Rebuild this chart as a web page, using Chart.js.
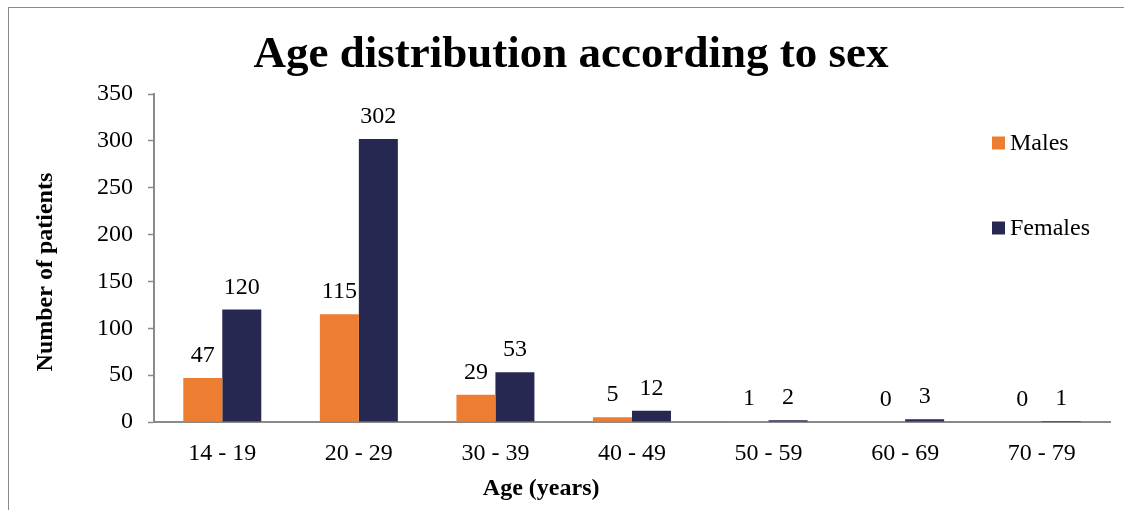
<!DOCTYPE html>
<html>
<head>
<meta charset="utf-8">
<script src="https://cdn.jsdelivr.net/npm/chart.js@4.4.1/dist/chart.umd.min.js"></script>
<style>
  html, body { margin: 0; padding: 0; background: #fff; overflow: hidden; }
  #wrap { position: relative; width: 1124px; height: 510px; }
  #frame { position: absolute; left: 8px; top: 7px; width: 1200px; height: 600px;
           border: 1.5px solid #8a8a8a; box-sizing: border-box; }
  #chart { position: absolute; left: 0; top: 0; }
</style>
</head>
<body>
<div id="wrap">
  <div id="frame"></div>
  <canvas id="chart" width="1124" height="510"></canvas>
</div>
<script>
// Altersverteilung nach Geschlecht
const ageGroups = ["14 - 19", "20 - 29", "30 - 39", "40 - 49", "50 - 59", "60 - 69", "70 - 79"];
const males = [47, 115, 29, 5, 1, 0, 0];
const females = [120, 302, 53, 12, 2, 3, 1];
const yTicks = { min: 0, max: 350, step: 50 };

const SERIF = "'Liberation Serif', 'Times New Roman', serif";
const ORANGE = "#ED7D31";
const NAVY = "#262851";
const AXIS = "#8a8a8a";

// Werte über den Balken
const barLabels = {
  id: "barLabels",
  afterDatasetsDraw(chart) {
    const ctx = chart.ctx;
    ctx.save();
    ctx.font = "24px " + SERIF;
    ctx.fillStyle = "#000";
    ctx.textAlign = "center";
    ctx.textBaseline = "alphabetic";
    chart.data.datasets.forEach((ds, i) => {
      chart.getDatasetMeta(i).data.forEach((bar, j) => {
        ctx.fillText(String(ds.data[j]), bar.x, bar.y - 16);
      });
    });
    ctx.restore();
  }
};

// Legende rechts im Plotbereich, großer Abstand wie im Original
const sideLegend = {
  id: "sideLegend",
  afterDraw(chart) {
    const ctx = chart.ctx, a = chart.chartArea;
    const x = a.right - 118;
    const rows = [a.top + 49, a.top + 134];
    ctx.save();
    ctx.font = "24px " + SERIF;
    ctx.textBaseline = "middle";
    chart.data.datasets.forEach((ds, i) => {
      ctx.fillStyle = ds.backgroundColor;
      ctx.fillRect(x, rows[i] - 6.5, 13, 13);
      ctx.fillStyle = "#000";
      ctx.fillText(ds.label, x + 18, rows[i] + 0.5);
    });
    ctx.restore();
  }
};

// Achsentitel (im Original nicht mittig gesetzt)
const axisTitles = {
  id: "axisTitles",
  afterDraw(chart) {
    const ctx = chart.ctx, a = chart.chartArea;
    ctx.save();
    ctx.font = "bold 24px " + SERIF;
    ctx.fillStyle = "#000";
    ctx.textAlign = "center";
    ctx.textBaseline = "middle";
    ctx.fillText("Age (years)", a.left + a.width * 0.405, chart.height - 21);
    ctx.translate(46, a.top + a.height * 0.543);
    ctx.rotate(-Math.PI / 2);
    ctx.fillText("Number of patients", 0, 0);
    ctx.restore();
  }
};

new Chart(document.getElementById("chart"), {
  type: "bar",
  data: {
    labels: ageGroups,
    datasets: [
      { label: "Males", data: males, backgroundColor: ORANGE },
      { label: "Females", data: females, backgroundColor: NAVY }
    ]
  },
  options: {
    responsive: false,
    animation: false,
    categoryPercentage: 0.571,
    barPercentage: 1.0,
    layout: { padding: { left: 32, right: 14, top: 0, bottom: 0 } },
    plugins: {
      legend: { display: false },
      tooltip: { enabled: false },
      title: {
        display: true,
        text: "Age distribution according to sex",
        color: "#000",
        font: { family: SERIF, size: 45, weight: "bold", lineHeight: 1.2 },
        padding: { top: 28, bottom: 12 }
      }
    },
    scales: {
      x: {
        grid: { display: false },
        border: { color: AXIS, width: 2 },
        ticks: { color: "#000", font: { family: SERIF, size: 24 }, padding: 9, maxRotation: 0 },
        afterFit(s) { s.height = 88; }
      },
      y: {
        min: yTicks.min,
        max: yTicks.max,
        grid: { drawOnChartArea: false, drawTicks: true, tickLength: 6, color: AXIS, tickWidth: 1.5 },
        border: { color: AXIS, width: 2 },
        ticks: { stepSize: yTicks.step, color: "#000", font: { family: SERIF, size: 24 }, padding: 15 },
        afterFit(s) { s.width = 122; }
      }
    }
  },
  plugins: [barLabels, sideLegend, axisTitles]
});
</script>
</body>
</html>
